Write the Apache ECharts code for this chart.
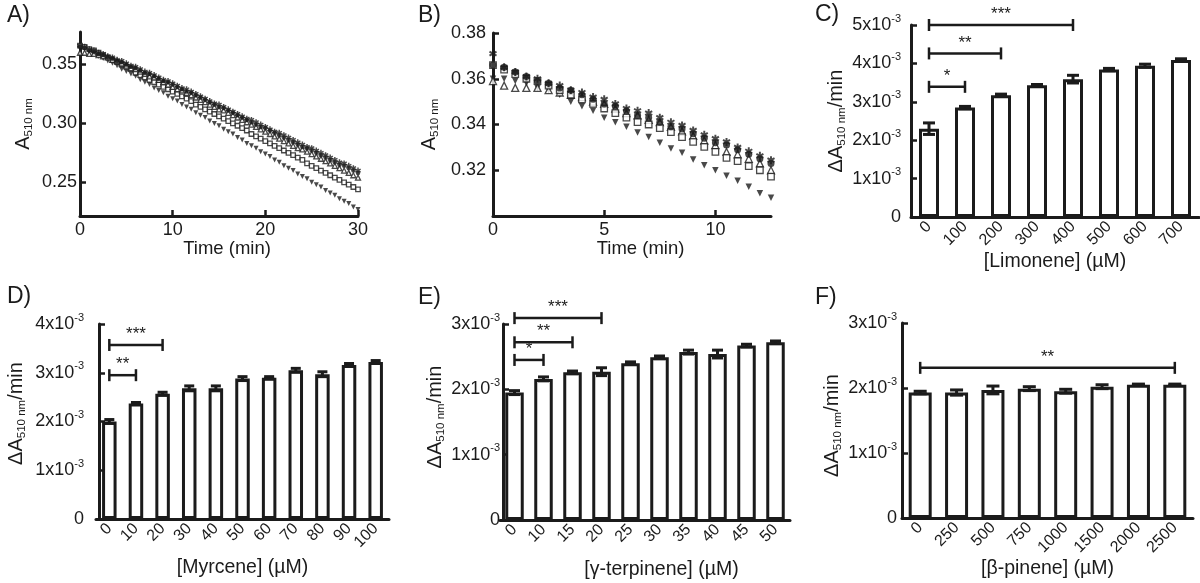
<!DOCTYPE html>
<html><head><meta charset="utf-8">
<script src="https://cdn.jsdelivr.net/npm/echarts@6/dist/echarts.min.js"></script>
<style>html,body{margin:0;padding:0;background:#fff}#c{width:1200px;height:583px}</style>
</head><body><div id="c"></div>
<script>
// ---------- Panel A: A510 vs time (0-30 min) ----------
const timeA = [0,0.5,1,1.5,2,2.5,3,3.5,4,4.5,5,5.5,6,6.5,7,7.5,8,8.5,9,9.5,10,10.5,11,11.5,12,12.5,13,13.5,14,14.5,15,15.5,16,16.5,17,17.5,18,18.5,19,19.5,20,20.5,21,21.5,22,22.5,23,23.5,24,24.5,25,25.5,26,26.5,27,27.5,28,28.5,29,29.5,30];
const aStar = [0.366,0.365,0.363,0.362,0.360,0.359,0.357,0.356,0.354,0.353,0.351,0.349,0.348,0.346,0.344,0.343,0.341,0.339,0.337,0.336,0.334,0.332,0.330,0.329,0.327,0.325,0.323,0.321,0.319,0.317,0.316,0.314,0.312,0.310,0.308,0.306,0.304,0.303,0.301,0.299,0.297,0.295,0.293,0.292,0.290,0.288,0.286,0.284,0.282,0.280,0.279,0.277,0.275,0.273,0.271,0.269,0.267,0.266,0.264,0.262,0.260];
const aCircle = [0.365,0.364,0.362,0.361,0.359,0.358,0.356,0.355,0.353,0.352,0.350,0.348,0.347,0.345,0.343,0.342,0.340,0.338,0.336,0.335,0.333,0.331,0.329,0.327,0.326,0.324,0.322,0.320,0.318,0.316,0.314,0.313,0.311,0.309,0.307,0.305,0.303,0.301,0.299,0.297,0.296,0.294,0.292,0.290,0.288,0.286,0.284,0.282,0.280,0.279,0.277,0.275,0.273,0.271,0.269,0.267,0.265,0.264,0.262,0.260,0.258];
const aTriangle = [0.360,0.360,0.359,0.359,0.358,0.357,0.356,0.354,0.353,0.351,0.349,0.347,0.346,0.344,0.342,0.340,0.339,0.337,0.335,0.333,0.331,0.329,0.328,0.326,0.324,0.322,0.320,0.318,0.316,0.314,0.312,0.311,0.309,0.307,0.305,0.303,0.301,0.299,0.297,0.295,0.293,0.291,0.289,0.287,0.285,0.283,0.281,0.279,0.278,0.276,0.274,0.272,0.270,0.268,0.266,0.264,0.262,0.260,0.258,0.256,0.254];
const aSquare = [0.366,0.365,0.363,0.362,0.360,0.358,0.356,0.354,0.352,0.350,0.348,0.346,0.343,0.341,0.339,0.337,0.335,0.333,0.331,0.329,0.327,0.325,0.323,0.321,0.319,0.316,0.314,0.312,0.310,0.308,0.306,0.304,0.302,0.300,0.298,0.296,0.294,0.291,0.289,0.287,0.285,0.283,0.281,0.279,0.277,0.275,0.273,0.271,0.269,0.266,0.264,0.262,0.260,0.258,0.256,0.254,0.252,0.250,0.248,0.246,0.244];
const aInvTri = [0.364,0.363,0.361,0.359,0.357,0.355,0.353,0.351,0.349,0.346,0.344,0.342,0.340,0.337,0.335,0.333,0.330,0.328,0.326,0.323,0.321,0.319,0.316,0.314,0.312,0.309,0.307,0.305,0.302,0.300,0.298,0.295,0.293,0.291,0.288,0.286,0.283,0.281,0.279,0.276,0.274,0.272,0.269,0.267,0.264,0.262,0.260,0.257,0.255,0.253,0.250,0.248,0.246,0.243,0.241,0.239,0.236,0.234,0.232,0.229,0.227];

// ---------- Panel B: A510 vs time (0-12.5 min) ----------
const timeB = [0,0.5,1,1.5,2,2.5,3,3.5,4,4.5,5,5.5,6,6.5,7,7.5,8,8.5,9,9.5,10,10.5,11,11.5,12,12.5];
const bStar = [0.371,0.365,0.363,0.361,0.360,0.358,0.357,0.355,0.354,0.352,0.351,0.349,0.347,0.346,0.345,0.343,0.341,0.3396,0.3374,0.3355,0.3338,0.3324,0.330,0.3283,0.3263,0.3244];
const bCircle = [0.366,0.365,0.363,0.361,0.359,0.358,0.356,0.355,0.353,0.351,0.349,0.348,0.346,0.344,0.343,0.341,0.339,0.338,0.336,0.334,0.332,0.331,0.329,0.327,0.325,0.323];
const bTriangle = [0.359,0.357,0.356,0.356,0.356,0.355,0.354,0.353,0.352,0.350,0.349,0.347,0.345,0.344,0.342,0.341,0.339,0.337,0.335,0.333,0.331,0.328,0.327,0.325,0.323,0.320];
const bSquare = [0.366,0.364,0.362,0.360,0.359,0.357,0.355,0.353,0.351,0.349,0.347,0.345,0.343,0.341,0.340,0.3384,0.3367,0.3345,0.3324,0.3302,0.328,0.3254,0.324,0.3218,0.320,0.3172];
const bInvTri = [0.360,0.360,0.359,0.358,0.356,0.355,0.353,0.350,0.348,0.346,0.343,0.341,0.339,0.3365,0.3345,0.332,0.3295,0.3276,0.3247,0.3222,0.320,0.3176,0.3154,0.3128,0.310,0.308];

// ---------- Bar panels (rates in units of 10^-3 ΔA510nm/min) ----------
const limoneneCats = ['0','100','200','300','400','500','600','700'];
const limoneneRate = [2.30,2.85,3.17,3.43,3.59,3.84,3.94,4.09];
const limoneneErr  = [0.15,0.03,0.03,0.02,0.10,0.03,0.04,0.03];
const limoneneSig  = [[0,1,3.39],[0,2,4.26],[0,4,5.0]];
const limoneneSigText = ['*','**','***'];

const myrceneCats = ['0','10','20','30','40','50','60','70','80','90','100'];
const myrceneRate = [2.00,2.37,2.57,2.68,2.68,2.88,2.90,3.05,2.97,3.16,3.22];
const myrceneErr  = [0.04,0.02,0.03,0.05,0.05,0.04,0.02,0.04,0.05,0.03,0.03];
const myrceneSig  = [[0,1,2.95],[0,2,3.57]];
const myrceneSigText = ['**','***'];

const terpineneCats = ['0','10','15','20','25','30','35','40','45','50'];
const terpineneRate = [1.95,2.16,2.26,2.27,2.40,2.49,2.57,2.54,2.67,2.72];
const terpineneErr  = [0.03,0.03,0.02,0.06,0.02,0.02,0.03,0.06,0.02,0.02];
const terpineneSig  = [[0,1,2.45],[0,2,2.72],[0,3,3.09]];
const terpineneSigText = ['*','**','***'];

const pineneCats = ['0','250','500','750','1000','1500','2000','2500'];
const pineneRate = [1.93,1.93,1.97,1.99,1.95,2.02,2.05,2.05];
const pineneErr  = [0.02,0.04,0.06,0.03,0.03,0.03,0.01,0.01];
const pineneSig  = [[0,7,2.31]];
const pineneSigText = ['**'];

const FONT = '"Liberation Sans", Arial, Helvetica, sans-serif';
const INK = '#1b1b1b';
const STAR = 'path://M-1.2,-5L1.2,-5L1.2,5L-1.2,5Z M3.73,3.54L-4.93,-1.46L-3.73,-3.54L4.93,1.46Z M-4.93,1.46L3.73,-3.54L4.93,-1.46L-3.73,3.54Z';

const chart = echarts.init(document.getElementById('c'));

const grids = [
  {left:80, top:32, width:278, height:184},
  {left:493, top:33, width:278, height:183},
  {left:911, top:25, width:288, height:192},
  {left:96, top:324, width:293, height:195},
  {left:500, top:324, width:290, height:196},
  {left:902, top:323, width:291, height:195}
].map(g => Object.assign({containLabel:false, outerBoundsMode:'none'}, g));

const axisLineStyle = {show:true, lineStyle:{color:INK, width:3}};
const tickStyle = {show:true, inside:true, length:6, lineStyle:{color:INK, width:2.5}};

function timeX(idx, max, interval, padLeft, showMax) {
  return {type:'value', gridIndex:idx, min:0, max:max, interval:interval,
    axisLine:axisLineStyle, axisTick:tickStyle, splitLine:{show:false},
    axisLabel:{fontSize:18, color:INK, fontFamily:FONT, margin:5, showMaxLabel:showMax},
    name:'Time (min)', nameLocation:'middle', nameGap:21,
    nameTextStyle:{fontSize:18.5, color:INK, fontFamily:FONT, padding:[0,0,0,padLeft], verticalAlign:'top'}};
}
function absY(idx, min, max, vals, gap, margin) {
  return {type:'value', gridIndex:idx, min:min, max:max,
    axisLine:axisLineStyle, splitLine:{show:false},
    axisTick:Object.assign({customValues:vals}, tickStyle),
    axisLabel:{customValues:vals, fontSize:18, color:INK, fontFamily:FONT, margin:margin,
      formatter:v => v.toFixed(2)},
    name:'{a|A}{s|510 nm}', nameLocation:'middle', nameRotate:90, nameGap:gap,
    nameTextStyle:{color:INK, fontFamily:FONT, rich:{
      a:{fontSize:20, lineHeight:24, color:INK, fontFamily:FONT},
      s:{fontSize:11.5, lineHeight:12, verticalAlign:'bottom', color:INK, fontFamily:FONT}}}};
}
function catX(idx, cats, name, gap, padLeft) {
  return {type:'category', gridIndex:idx, data:cats,
    axisLine:axisLineStyle, axisTick:{show:false}, splitLine:{show:false},
    axisLabel:{rotate:45, interval:0, fontSize:16, color:INK, fontFamily:FONT, margin:7},
    name:name, nameLocation:'middle', nameGap:gap,
    nameTextStyle:{fontSize:19.5, color:INK, fontFamily:FONT, padding:[0,0,0,padLeft||0], verticalAlign:'top'}};
}
function rateY(idx, max, gap, margin, offset, namePad) {
  return {type:'value', gridIndex:idx, min:0, max:max, interval:1, offset:offset,
    axisLine:axisLineStyle, axisTick:tickStyle, splitLine:{show:false},
    axisLabel:{fontSize:18, color:INK, fontFamily:FONT, margin:margin,
      formatter:v => v === 0 ? '0' : '{m|' + v + 'x10}{s|-3}',
      rich:{m:{fontSize:18, lineHeight:24, color:INK, fontFamily:FONT},
            s:{fontSize:11, lineHeight:11, verticalAlign:'top', color:INK, fontFamily:FONT}}},
    name:'{a|ΔA}{s|510 nm}{a|/min}', nameLocation:'middle', nameRotate:90, nameGap:gap,
    nameTextStyle:{color:INK, fontFamily:FONT, padding:namePad, rich:{
      a:{fontSize:20, lineHeight:24, color:INK, fontFamily:FONT},
      s:{fontSize:11.5, lineHeight:12, verticalAlign:'bottom', color:INK, fontFamily:FONT}}}};
}

function sc(idx, xs, ys, symbol, size, open, rotate) {
  return {type:'scatter', xAxisIndex:idx, yAxisIndex:idx, silent:true,
    data: xs.map((x,i) => [x, ys[i]]), symbol:symbol, symbolSize:size, symbolRotate:rotate||0,
    itemStyle: open ? {color:'#fff', borderColor:INK, borderWidth:1.3} : {color:INK}};
}
function bars(idx, vals, bw) {
  return {type:'bar', xAxisIndex:idx, yAxisIndex:idx, data:vals, barWidth:bw, silent:true,
    itemStyle:{color:'#fff', borderColor:INK, borderWidth:3}};
}
function errs(idx, vals, e, capW) {
  return {type:'custom', xAxisIndex:idx, yAxisIndex:idx, z:5, silent:true,
    data: vals.map((v,i) => [i, v - e[i], v + e[i]]),
    encode:{x:0, y:[1,2]},
    renderItem:(params, api) => {
      const lo = api.coord([api.value(0), api.value(1)]);
      const hi = api.coord([api.value(0), api.value(2)]);
      const w = capW/2;
      const st = {stroke:INK, lineWidth:3};
      return {type:'group', children:[
        {type:'line', shape:{x1:lo[0], y1:lo[1], x2:hi[0], y2:hi[1]}, style:st},
        {type:'line', shape:{x1:hi[0]-w, y1:hi[1], x2:hi[0]+w, y2:hi[1]}, style:st},
        {type:'line', shape:{x1:lo[0]-w, y1:lo[1], x2:lo[0]+w, y2:lo[1]}, style:st}]};
    }};
}
function sig(idx, s, labels) {
  return {type:'custom', xAxisIndex:idx, yAxisIndex:idx, z:6, clip:false, silent:true,
    data:s, encode:{x:[0,1], y:2},
    renderItem:(params, api) => {
      const p1 = api.coord([api.value(0), api.value(2)]);
      const p2 = api.coord([api.value(1), api.value(2)]);
      const st = {stroke:INK, lineWidth:2.5};
      return {type:'group', children:[
        {type:'line', shape:{x1:p1[0], y1:p1[1], x2:p2[0], y2:p2[1]}, style:st},
        {type:'line', shape:{x1:p1[0], y1:p1[1]-6, x2:p1[0], y2:p1[1]+6}, style:st},
        {type:'line', shape:{x1:p2[0], y1:p2[1]-6, x2:p2[0], y2:p2[1]+6}, style:st},
        {type:'text', style:{text:labels[params.dataIndex], x:(p1[0]+p2[0])/2, y:p1[1]-2,
          align:'center', verticalAlign:'bottom', fontSize:17, fill:INK, fontFamily:FONT}}]};
    }};
}

const panelLabels = [['A)',7,4],['B)',418,4],['C)',815,3],['D)',7,285],['E)',418,286],['F)',815,286]];

chart.setOption({
  animation:false,
  backgroundColor:'#fff',
  textStyle:{fontFamily:FONT},
  grid:grids,
  xAxis:[
    timeX(0, 30, 10, 16, true),
    timeX(1, 12.5, 5, 17, false),
    catX(2, limoneneCats, '[Limonene] (µM)', 35, 0),
    catX(3, myrceneCats, '[Myrcene] (µM)', 39, 0),
    catX(4, terpineneCats, '[γ-terpinene] (µM)', 40, 33),
    catX(5, pineneCats, '[β-pinene] (µM)', 37, 0)
  ],
  yAxis:[
    absY(0, 0.2214, 0.3776, [0.25,0.30,0.35], 45, 3),
    absY(1, 0.30, 0.38, [0.32,0.34,0.36,0.38], 52, 7),
    rateY(2, 5, 60, 10, 0, [0,0,0,0]),
    rateY(3, 4, 71, 15, -3, [0,0,0,16]),
    rateY(4, 3, 53, 3, -3, [0,0,0,10]),
    rateY(5, 3, 56, 5, 0, [0,10,0,0])
  ],
  series:[
    sc(0, timeA, aInvTri, 'triangle', 5, false, 180),
    sc(0, timeA, aSquare, 'rect', 4.5, true),
    sc(0, timeA, aTriangle, 'triangle', 5, true),
    sc(0, timeA, aCircle, 'circle', 4.5, false),
    sc(0, timeA, aStar, STAR, 6, false),
    sc(1, timeB, bInvTri, 'triangle', 6.5, false, 180),
    sc(1, timeB, bTriangle, 'triangle', 7, true),
    sc(1, timeB, bSquare, 'rect', 6.5, true),
    sc(1, timeB, bCircle, 'circle', 7, false),
    sc(1, timeB, bStar, STAR, 8, false),
    bars(2, limoneneRate, 20), errs(2, limoneneRate, limoneneErr, 12), sig(2, limoneneSig, limoneneSigText),
    bars(3, myrceneRate, 14.5), errs(3, myrceneRate, myrceneErr, 10), sig(3, myrceneSig, myrceneSigText),
    bars(4, terpineneRate, 18.5), errs(4, terpineneRate, terpineneErr, 11), sig(4, terpineneSig, terpineneSigText),
    bars(5, pineneRate, 23), errs(5, pineneRate, pineneErr, 13), sig(5, pineneSig, pineneSigText)
  ],
  graphic: panelLabels.map(p => ({type:'text', left:p[1], top:p[2], silent:true,
    style:{text:p[0], fontSize:23, fill:INK, fontFamily:FONT}}))
});
</script>
</body></html>
